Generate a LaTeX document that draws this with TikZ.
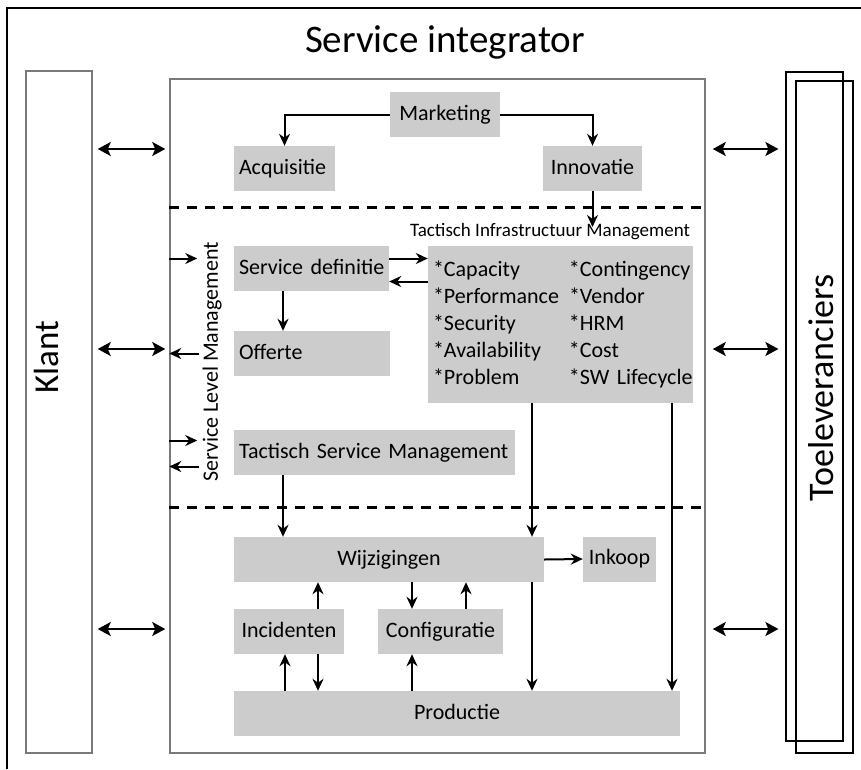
\documentclass[tikz,border=0pt]{standalone}
\usepackage{fontspec}
\setmainfont{Carlito}
\usetikzlibrary{arrows.meta}

\definecolor{boxgray}{HTML}{CCCCCC}
\definecolor{framegray}{HTML}{7A7A7A}

\newcommand{\tabrow}[2]{\mbox{\makebox[136pt][l]{#1}#2}}

\tikzset{
  graybox/.style={fill=boxgray, inner xsep=5pt, inner ysep=0pt,
    font=\fontsize{22}{26}\selectfont},
  box/.style={graybox, minimum height=45pt, text height=15pt, text depth=4pt},
  lbox/.style={box, align=left},
  frame/.style={draw=framegray, line width=1.5pt, inner sep=0pt},
  supbox/.style={draw, line width=1.2pt, inner sep=0pt},
  arr/.style={line width=2pt, -{Stealth[length=12pt, width=11pt]}},
  darr/.style={line width=2pt, {Stealth[length=13pt, width=14pt, inset=3pt]}-{Stealth[length=13pt, width=14pt, inset=3pt]}},
  dashline/.style={line width=3pt, dash pattern=on 10pt off 8pt},
}

\begin{document}
\begin{tikzpicture}[x=1pt, y=-1pt]
  \useasboundingbox (0,0) rectangle (861,769);
  \draw[line width=1.5pt] (7,769) -- (7,8) -- (861,8);

  \node[font=\fontsize{39}{46}\selectfont] (title) at (445,42) {Service integrator};

  % outer blocks
  \node[frame, minimum width=66pt, minimum height=682pt] (klant) at (59,412) {};
  \node[rotate=90, font=\fontsize{35}{42}\selectfont] (klanttxt) at (46,357) {Klant};
  \node[frame, minimum width=535pt, minimum height=674pt] (si) at (437.5,416) {};
  \node[supbox, minimum width=57pt, minimum height=669pt] (toe1) at (814.5,406.5) {};
  \node[supbox, minimum width=57pt, minimum height=672pt] (toe2) at (824.5,417) {};
  \node[rotate=90, font=\fontsize{36}{43}\selectfont] (toetxt) at (821,388) {Toeleveranciers};

  \foreach \y in {149, 349, 629} {
    \draw[darr] ([xshift=5pt]klant.east |- 0,\y) -- ([xshift=-4pt]si.west |- 0,\y);
    \draw[darr] ([xshift=7pt]si.east |- 0,\y) -- ([xshift=-7pt]toe1.west |- 0,\y);
  }

  \draw[dashline] (si.west |- 0,207) -- (si.east |- 0,207);
  \draw[dashline] (si.west |- 0,507) -- (si.east |- 0,507);

  % strategisch
  \node[box, minimum width=110pt] (mkt) at (445,114.5) {Marketing};
  \node[lbox, text width=91pt] (acq) at (284.5,168.5) {Acquisitie};
  \node[box, minimum width=99pt] (inn) at (592.5,168.5) {Innovatie};
  \draw[arr] (mkt.west) -| (acq.north);
  \draw[arr] (mkt.east) -| (inn.north);

  % tactisch
  \node[font=\fontsize{19}{23}\selectfont, inner sep=0pt] (timl) at (550,232)
    {Tactisch Infrastructuur Management};
  \coordinate (innend) at (inn.south |- 0,227);
  \draw[arr] (inn.south) -- (innend);
  \node[graybox, align=left, minimum height=157pt, text width=255pt, font=\fontsize{22}{27}\selectfont] (tim) at (560.5,324.5)
    {\tabrow{*Capacity}{*Contingency}\\
     \tabrow{*Performance}{*Vendor}\\
     \tabrow{*Security}{*HRM}\\
     \tabrow{*Availability}{*Cost}\\
     \tabrow{*Problem}{*SW Lifecycle}};
  \node[lbox, text width=145pt] (sd) at (311.5,268.5) {\mbox{Service definitie}};
  \node[lbox, text width=146pt] (off) at (312,353.5) {Offerte};
  \node[lbox, text width=271pt] (tsm) at (374.5,452.5) {\mbox{Tactisch Service Management}};
  \node[rotate=90, font=\fontsize{22}{26}\selectfont] (slm) at (212,362) {Service Level Management};

  \draw[arr] ([yshift=10pt]sd.east) -- ([yshift=10pt]sd.east -| tim.west);
  \draw[arr] ([yshift=-13pt]sd.east -| tim.west) -- ([yshift=-13pt]sd.east);
  \draw[arr] (sd.south -| 283,0) -- (off.north -| 283,0);

  \draw[arr] ([yshift=10pt]sd.west -| si.west) -- ++(28,0);
  \draw[arr] (off.west -| 199,0) -- (off.west -| si.west);
  \draw[arr] ([yshift=12pt]tsm.west -| si.west) -- ++(28,0);
  \draw[arr] ([yshift=-14pt]tsm.west -| 199,0) -- ([yshift=-14pt]tsm.west -| si.west);

  % operationeel
  \node[box, minimum width=310pt] (wij) at (389,559.5) {Wijzigingen};
  \node[box, minimum width=73pt] (ink) at (619.5,559) {Inkoop};
  \node[box, minimum width=110pt] (inc) at (289,631.5) {Incidenten};
  \node[box, minimum width=125pt] (conf) at (440.5,631.5) {Configuratie};
  \node[box, minimum width=446pt] (prod) at (457,713.5) {Productie};

  \draw[arr] (tsm.south -| 283,0) -- (wij.north -| 283,0);
  \draw[arr] (tim.south -| 532,0) -- (wij.north -| 532,0);
  \draw[arr] (tim.south -| 672,0) -- (prod.north -| 672,0);
  \draw[arr] (wij.south -| 532,0) -- (prod.north -| 532,0);
  \draw[arr] (wij.east) -- (ink.west);
  \draw[arr] (inc.north -| 318,0) -- (wij.south -| 318,0);
  \draw[arr] (inc.south -| 318,0) -- (prod.north -| 318,0);
  \draw[arr] (prod.north -| 285,0) -- (inc.south -| 285,0);
  \draw[arr] (wij.south -| 412,0) -- (conf.north -| 412,0);
  \draw[arr] (conf.north -| 466,0) -- (wij.south -| 466,0);
  \draw[arr] (prod.north -| 412,0) -- (conf.south -| 412,0);
\end{tikzpicture}
\end{document}
